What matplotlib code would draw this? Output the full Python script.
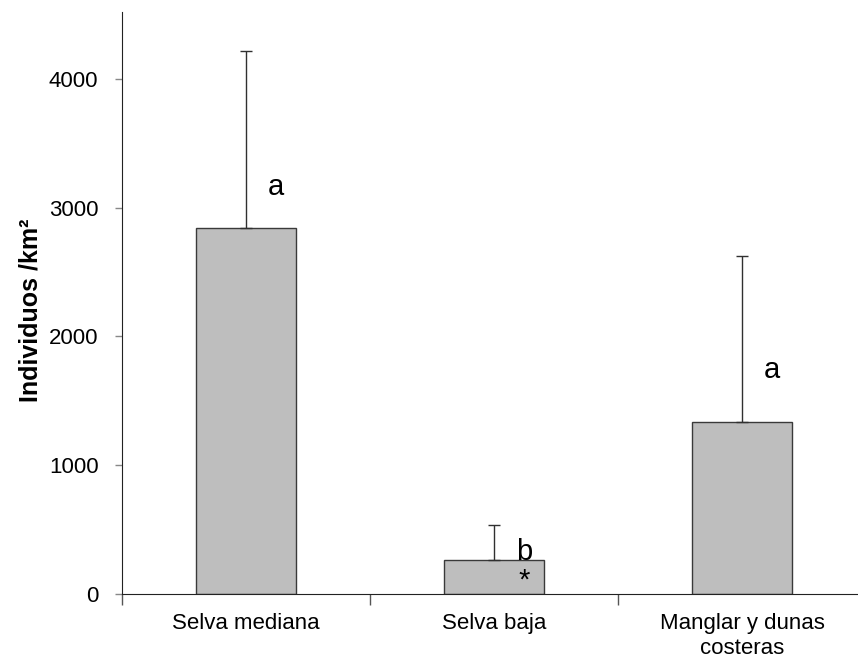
import matplotlib.pyplot as plt
from matplotlib.ticker import FixedLocator

plt.rcParams['font.family'] = ['Liberation Sans', 'DejaVu Sans']

# density per habitat (mean and upper error)
habitats = ["Selva mediana", "Selva baja", "Manglar y dunas\ncosteras"]
density = [2843, 264, 1336]
err_up = [1374, 272, 1289]
letters = ["a", "b", "a"]
letter_y = [3160, 330, 1740]

fig = plt.figure(figsize=(8.58, 6.68), dpi=100)
ax = fig.add_axes([122 / 858, 1 - 594 / 668, 736 / 858, 582 / 668])

x = list(range(len(habitats)))
ax.bar(x, density, width=0.4, color="#bebebe", edgecolor="#3a3a3a", linewidth=1.0, zorder=2)
ax.errorbar(x, density, yerr=[[0] * len(x), err_up], fmt="none",
            ecolor="#303030", elinewidth=1.0, capsize=4, capthick=1.0, zorder=3)

for xi, lab, ly in zip(x, letters, letter_y):
    ax.text(xi + 0.12, ly, lab, fontsize=21, ha="center", va="center")
# significance mark under the "b"
ax.text(1 + 0.12, 105, "*", fontsize=21, ha="center", va="center")

ax.set_xlim(-0.5, 2.468)
ax.set_ylim(0, 4520)
ax.set_yticks([0, 1000, 2000, 3000, 4000])
ax.tick_params(axis="y", labelsize=16, length=5, width=1, color="#888888", pad=12)

ax.set_xticks(x)
ax.set_xticklabels(habitats, fontsize=16)
ax.tick_params(axis="x", which="major", length=0, pad=14)
ax.xaxis.set_minor_locator(FixedLocator([-0.5, 0.5, 1.5]))
ax.tick_params(axis="x", which="minor", length=8, width=1, color="#555555")

for side in ["top", "right"]:
    ax.spines[side].set_visible(False)
ax.spines["left"].set_color("#222222")
ax.spines["bottom"].set_color("#222222")

fig.text(30 / 858, 1 - 310 / 668, "Individuos /km²", rotation=90,
         fontsize=18, fontweight="bold", ha="center", va="center")

fig.savefig("out.png", dpi=100)
